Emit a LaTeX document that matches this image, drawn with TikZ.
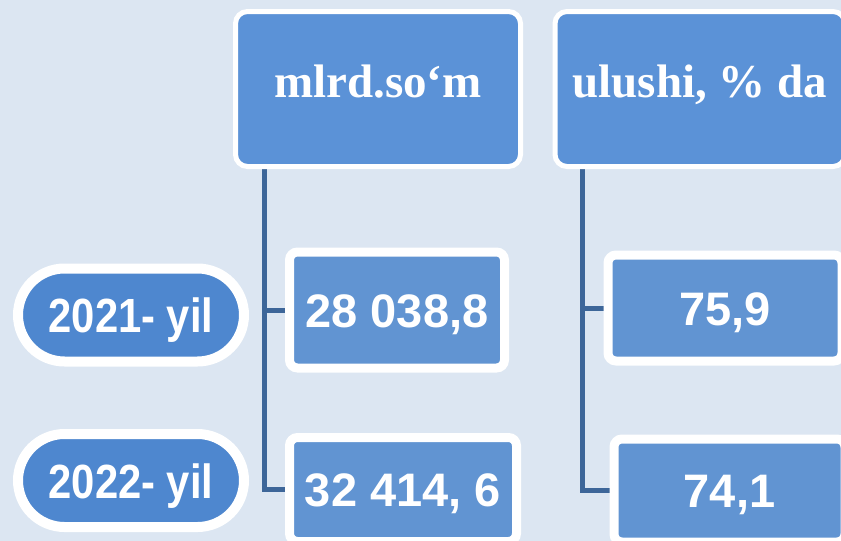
\documentclass[tikz,border=0pt]{standalone}
\usepackage{fontspec}
\setmainfont{Liberation Serif}
\newfontfamily\arialfont{Liberation Sans}
\newfontfamily\narrowfont[FakeStretch=0.87]{Liberation Sans}
\usetikzlibrary{shapes.misc,shadows,backgrounds}
\definecolor{bgblue}{HTML}{DCE6F2}
\definecolor{headblue}{HTML}{5B92D7}
\definecolor{valblue}{HTML}{6194D2}
\definecolor{pillblue}{HTML}{4E87CF}
\definecolor{linkblue}{HTML}{3D6699}

\begin{document}
\begin{tikzpicture}[x=1pt,y=-1pt]

      \useasboundingbox (0,0) rectangle (841,541);

      \begin{scope}[every node/.style={rectangle,rounded corners=12pt,draw=white,line width=5pt,fill=headblue,text=white,inner sep=2pt,
          font=\fontsize{47}{56}\selectfont\bfseries,text height=34pt,text depth=18pt,minimum height=155pt}]
        \node[minimum width=285pt] (h1) at (378,89)  {mlrd.so‘m};
        \node[minimum width=290pt] (h2) at (700,89)  {ulushi, \% da};
      \end{scope}

      \begin{scope}[every node/.style={rectangle,rounded corners=8pt,draw=white,line width=9pt,fill=valblue,text=white,inner sep=2pt,
          font=\arialfont\fontsize{47}{56}\selectfont\bfseries,text height=34pt,text depth=0pt}]
        \node[minimum width=215pt,minimum height=116pt] (v1) at (397,310)     {28 038,8};
        \node[minimum width=227pt,minimum height=104pt] (v2) at (403,489.5)   {32 414, 6};
        \node[minimum width=234pt,minimum height=106pt] (v3) at (725,308)     {75,9};
        \node[minimum width=231pt,minimum height=103pt] (v4) at (729.5,490.5) {74,1};
      \end{scope}

      \begin{scope}[every node/.style={rounded rectangle,draw=white,line width=10pt,fill=pillblue,text=white,inner sep=2pt,
          font=\narrowfont\fontsize{48}{56}\selectfont\bfseries,text height=35pt,text depth=0pt,minimum width=230pt,minimum height=93pt,
          drop shadow={opacity=0.25,shadow xshift=1pt,shadow yshift=-4pt}}]
        \node (p1) at (131,315)   {2021- yil};
        \node (p2) at (131,480.5) {2022- yil};
      \end{scope}

      \begin{pgfonlayer}{background}
        \fill[bgblue] (0,0) rectangle (841,541);
        \path (h1.south west) ++(31.5,0) coordinate (t1);
        \path (h2.south west) ++(29.5,0) coordinate (t2);
        \begin{scope}[linkblue,line width=5pt]
          \draw (t1) |- (v1.west);
          \draw (t1) |- (v2.west);
          \draw (t2) |- (v3.west);
          \draw (t2) |- (v4.west);
        \end{scope}
      \end{pgfonlayer}

    \end{tikzpicture}
\end{document}
